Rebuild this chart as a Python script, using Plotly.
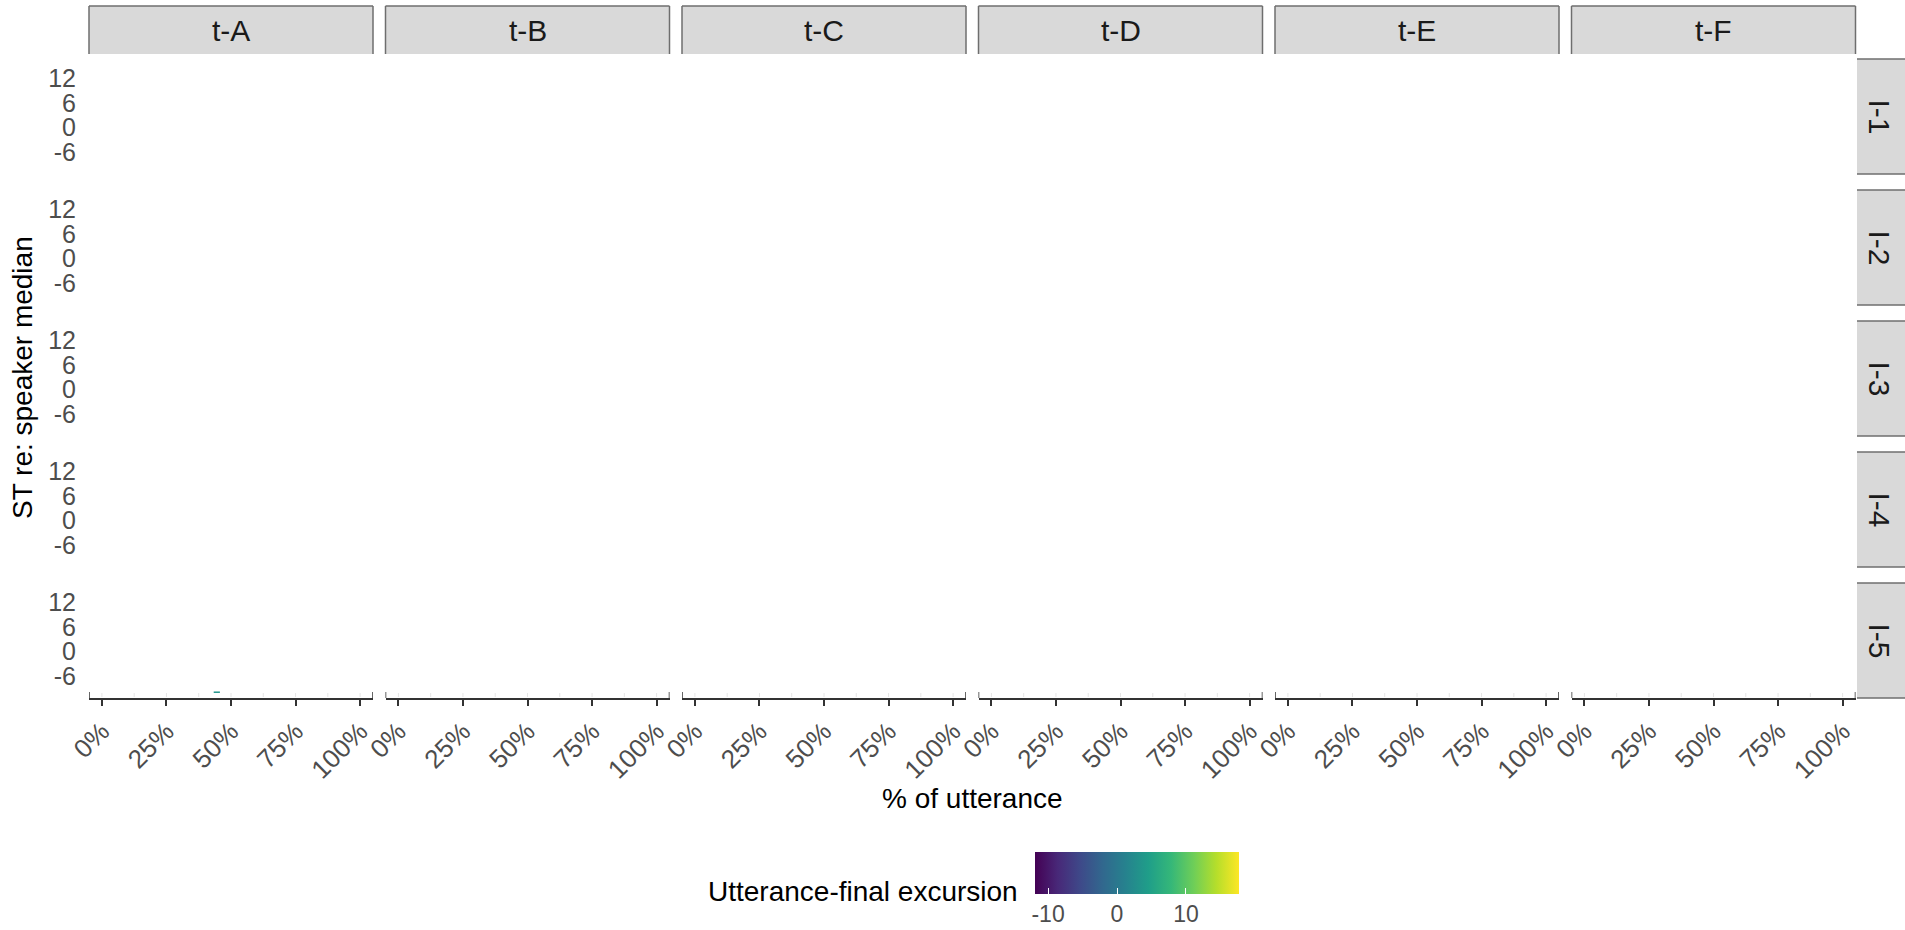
import plotly.graph_objects as go
from plotly.colors import sample_colorscale

# ---- data ----
col_labels = ["t-A", "t-B", "t-C", "t-D", "t-E", "t-F"]
row_labels = ["I-1", "I-2", "I-3", "I-4", "I-5"]
x_tick_vals = [0, 25, 50, 75, 100]
x_tick_text = ["0%", "25%", "50%", "75%", "100%"]
y_tick_vals = [12, 6, 0, -6]
y_tick_text = ["12", "6", "0", "-6"]
cb_tick_vals = [-10, 0, 10]
cb_tick_text = ["-10", "0", "10"]

# the only visible contour (row I-5, column t-A)
seg_row = "I-5"
seg_col = "t-A"
seg_x = [43.3, 45.7]
seg_y = [-9.8, -9.8]
seg_excursion = 3.5

x_range = [-5, 105]
y_range = [-11.2, 16.6]
cb_range = [-11.9, 17.7]

# ---- layout geometry (pixels) ----
W, H = 1905, 930
col_left0, col_pitch, col_w = 89, 296.5, 284
row_top0, row_pitch, row_h = 59, 131, 115

def px(x):
    return x / W

def py(y):
    return 1 - y / H

FONT = "Liberation Sans, Arial, sans-serif"
fig = go.Figure()
layout = dict(
    width=W, height=H,
    margin=dict(l=0, r=0, t=0, b=0, pad=0, autoexpand=False),
    paper_bgcolor="white", plot_bgcolor="white",
    font=dict(family=FONT, color="#1A1A1A"),
    showlegend=False,
)
shapes = []
annotations = []
nrows, ncols = len(row_labels), len(col_labels)
for r in range(nrows):
    for c in range(ncols):
        k = r * ncols + c + 1
        xs = "" if k == 1 else str(k)
        x0 = col_left0 + c * col_pitch
        x1 = x0 + col_w
        y0 = row_top0 + r * row_pitch
        y1 = y0 + row_h
        bottom = r == nrows - 1
        # empty trace so every panel exists as a subplot
        fig.add_trace(go.Scatter(x=[None], y=[None], mode="lines",
                                 xaxis="x" + xs, yaxis="y" + xs, hoverinfo="skip"))
        layout["xaxis" + xs] = dict(
            domain=[px(x0), px(x1)], range=x_range, anchor="y" + xs,
            showgrid=False, zeroline=False, automargin=False,
            showline=bottom, linecolor="#333333", linewidth=1.5,
            ticks="outside" if bottom else "", ticklen=6, tickwidth=1.5, tickcolor="#333333",
            tickvals=x_tick_vals, ticktext=x_tick_text, showticklabels=bottom,
            tickangle=-45, tickfont=dict(size=26, color="#4D4D4D", family=FONT),
        )
        layout["yaxis" + xs] = dict(
            domain=[py(y1), py(y0)], range=y_range, anchor="x" + xs,
            showgrid=False, zeroline=False, showline=False, automargin=False,
            tickvals=y_tick_vals, ticktext=y_tick_text, showticklabels=(c == 0),
            ticks="outside" if c == 0 else "", ticklen=7, tickcolor="rgba(0,0,0,0)",
            tickfont=dict(size=25, color="#4D4D4D", family=FONT),
        )
        if bottom:
            xref = "x" + xs
            for xe in x_range:
                shapes.append(dict(type="line", xref=xref, yref="paper",
                                   x0=xe, x1=xe, y0=py(y1), y1=py(y1 - 6),
                                   line=dict(color="#333333", width=1.5)))
            for g in [0, 12.5, 25, 37.5, 50, 62.5, 75, 87.5, 100]:
                shapes.append(dict(type="line", xref=xref, yref="paper",
                                   x0=g, x1=g, y0=py(y1 - 1), y1=py(y1 - 5),
                                   line=dict(color="#E6E6E6", width=1), layer="below"))
        if r == 0:
            sy0, sy1 = 6, 54
            shapes.append(dict(type="rect", xref="paper", yref="paper",
                               x0=px(x0), x1=px(x1), y0=py(sy1), y1=py(sy0),
                               fillcolor="#D9D9D9", line=dict(width=0)))
            for (a, b, cc, d) in [(x0, sy0, x1, sy0), (x0, sy0, x0, sy1), (x1, sy0, x1, sy1)]:
                shapes.append(dict(type="line", xref="paper", yref="paper",
                                   x0=px(a), y0=py(b), x1=px(cc), y1=py(d),
                                   line=dict(color="#6E6E6E", width=1.5)))
            annotations.append(dict(text=col_labels[c], xref="paper", yref="paper",
                                    x=px((x0 + x1) / 2), y=py((sy0 + sy1) / 2 + 1),
                                    xanchor="center", yanchor="middle",
                                    showarrow=False, font=dict(size=30, color="#1A1A1A", family=FONT)))
        if c == ncols - 1:
            sx0, sx1 = 1857, 1915
            shapes.append(dict(type="rect", xref="paper", yref="paper",
                               x0=px(sx0), x1=px(sx1), y0=py(y1), y1=py(y0),
                               fillcolor="#D9D9D9", line=dict(width=0)))
            for yy in (y0, y1):
                shapes.append(dict(type="line", xref="paper", yref="paper",
                                   x0=px(sx0), x1=px(sx1), y0=py(yy), y1=py(yy),
                                   line=dict(color="#6E6E6E", width=1.5)))
            annotations.append(dict(text=row_labels[r], xref="paper", yref="paper",
                                    x=px(1879), y=py((y0 + y1) / 2), textangle=90,
                                    xanchor="center", yanchor="middle",
                                    showarrow=False, font=dict(size=30, color="#1A1A1A", family=FONT)))

# the contour segment
ri = row_labels.index(seg_row)
ci = col_labels.index(seg_col)
k = ri * ncols + ci + 1
xs = "" if k == 1 else str(k)
frac = (seg_excursion - cb_range[0]) / (cb_range[1] - cb_range[0])
seg_color = sample_colorscale("Viridis", [frac])[0]
fig.add_trace(go.Scatter(x=seg_x, y=seg_y, mode="lines", xaxis="x" + xs, yaxis="y" + xs,
                         line=dict(color=seg_color, width=1.5), hoverinfo="skip",
                         cliponaxis=False))

# colorbar carrier
fig.add_trace(go.Scatter(
    x=[None], y=[None], mode="markers",
    marker=dict(color=[0], colorscale="Viridis", cmin=cb_range[0], cmax=cb_range[1],
                showscale=True,
                colorbar=dict(orientation="h", x=px(1137), xanchor="center",
                              y=py(852), yanchor="top", ypad=0, xpad=0,
                              thickness=42, thicknessmode="pixels",
                              len=204, lenmode="pixels", outlinewidth=0,
                              tickvals=cb_tick_vals, ticktext=cb_tick_text,
                              ticks="inside", ticklen=6,
                              tickcolor="white", tickwidth=1.2,
                              tickfont=dict(size=23, color="#4D4D4D", family=FONT))),
    hoverinfo="skip"))

annotations.append(dict(text="% of utterance", xref="paper", yref="paper",
                        x=px(972), y=py(798), xanchor="center", yanchor="middle",
                        showarrow=False,
                        font=dict(size=28, color="#000000", family=FONT)))
annotations.append(dict(text="ST re: speaker median", xref="paper", yref="paper",
                        x=px(22), y=py(378), textangle=-90, xanchor="center", yanchor="middle",
                        showarrow=False,
                        font=dict(size=28, color="#000000", family=FONT)))
annotations.append(dict(text="Utterance-final excursion", xref="paper", yref="paper",
                        x=px(1020), y=py(891), xanchor="right", yanchor="middle",
                        showarrow=False,
                        font=dict(size=28, color="#000000", family=FONT)))

layout["shapes"] = shapes
layout["annotations"] = annotations
fig.update_layout(**layout)
fig.write_html("out.html", config={"displayModeBar": False},
               post_script="document.body.style.margin='0';document.body.style.overflow='hidden';")
